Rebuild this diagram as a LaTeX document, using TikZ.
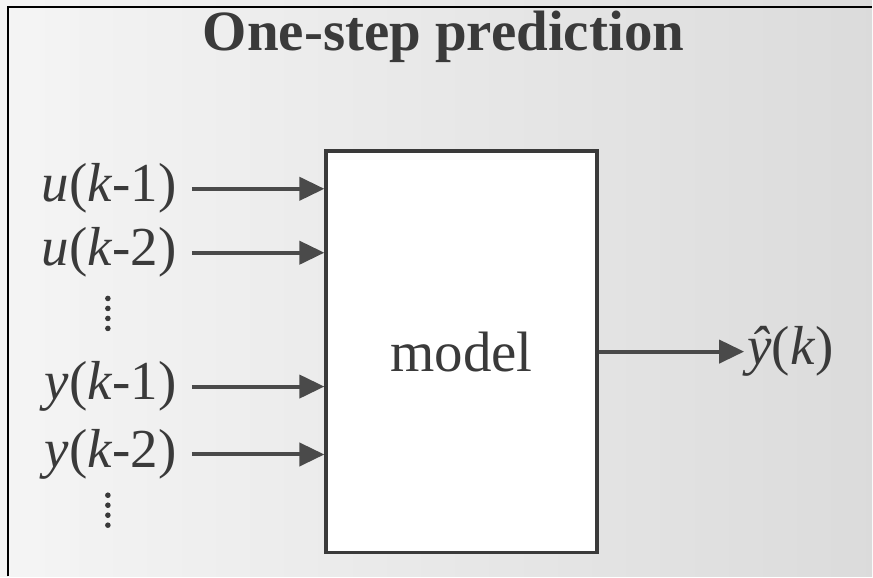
\documentclass[tikz,border=0pt]{standalone}
\usepackage{fontspec}
\setmainfont{Liberation Serif}
\usepackage{xcolor}
\usepackage{tikz}
\usetikzlibrary{positioning,arrows.meta}

\definecolor{ink}{HTML}{3A3A3A}
\definecolor{arrowgray}{HTML}{4A4A4A}

\begin{document}
\begin{tikzpicture}[
        x=1pt, y=-1pt,
        label/.style={text=ink, font=\fontsize{55}{60}\selectfont, inner sep=0pt, anchor=east},
        modelbox/.style={draw=ink, line width=3.5pt, fill=white, minimum width=271pt, minimum height=402pt,
            text=ink, font=\fontsize{57}{62}\selectfont},
        dotcol/.style={minimum width=6pt, minimum height=34pt, inner sep=0pt},
        arr/.style={draw=arrowgray, line width=4pt, -{Triangle[length=25pt, width=23pt]}},
    ]
        % background and frame
        \fill[left color=gray!8, right color=gray!28] (0,0) rectangle (873,577);
        \draw[line width=2pt, black] (8,577) -- (8,7) -- (873,7);
        \useasboundingbox (0,0) rectangle (873,577);

        \node[text=ink, font=\bfseries\fontsize{57}{62}\selectfont, inner sep=0pt] (title) at (444,37) {One-step prediction};

        \node[modelbox] (model) at (462,352) {model};

        \node[label] (u1) at (177,189) {\textit{u}(\textit{k}-1)};
        \node[label] (u2) at (177,253) {\textit{u}(\textit{k}-2)};
        \node[dotcol] (udots) at (108,314) {};
        \node[label] (y1) at (177,387) {\textit{y}(\textit{k}-1)};
        \node[label] (y2) at (177,455) {\textit{y}(\textit{k}-2)};
        \node[dotcol] (ydots) at (108,511) {};

        \node[text=ink, font=\fontsize{55}{60}\selectfont, inner sep=0pt, anchor=west] (yhat) at (748,352) {\textit{\^y}(\textit{k})};

        \foreach \d in {udots, ydots}
            \foreach \i in {0,...,3}
                \fill[ink] (\d.north) ++(0,\i*10+2) circle (2.8pt);

        \draw[arr, shorten <=15pt] (u1.east) -- (u1 -| model.west);
        \draw[arr, shorten <=15pt] (u2.east) -- (u2 -| model.west);
        \draw[arr, shorten <=15pt] (y1.east) -- (y1 -| model.west);
        \draw[arr, shorten <=15pt] (y2.east) -- (y2 -| model.west);
        \draw[arr] (model.east) -- ([xshift=-3pt]yhat.west);
    \end{tikzpicture}
\end{document}
